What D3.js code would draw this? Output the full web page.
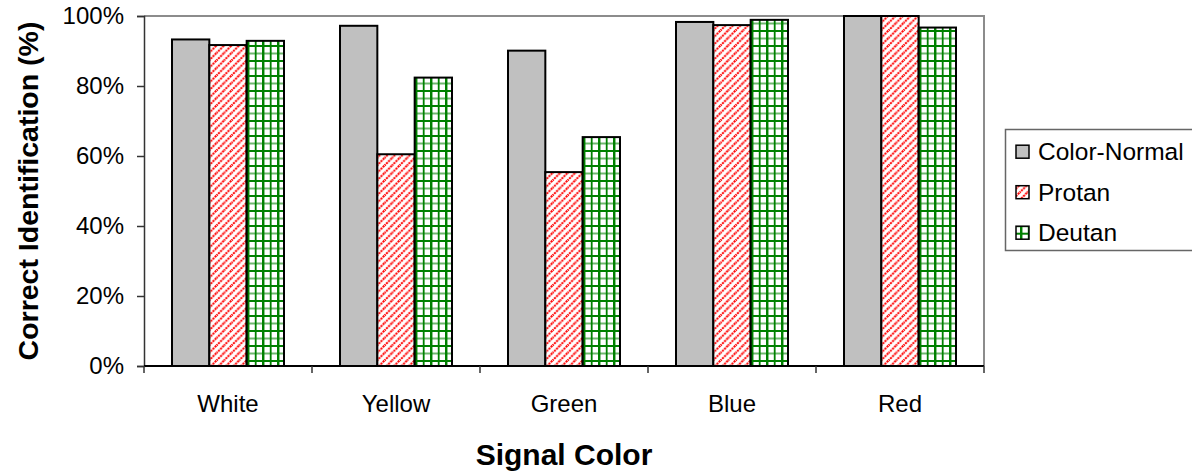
<!DOCTYPE html>
<html>
<head>
<meta charset="utf-8">
<script src="https://cdn.jsdelivr.net/npm/d3@7"></script>
<style>
  html, body { margin: 0; padding: 0; background: #fff; }
  svg { display: block; font-family: "Liberation Sans", Arial, sans-serif; }
</style>
</head>
<body>
<svg id="chart" width="1192" height="471"></svg>
<script>
// Signal colours shown along the x axis
const categories = ["White", "Yellow", "Green", "Blue", "Red"];
// Observer groups
const seriesNames = ["Color-Normal", "Protan", "Deutan"];
// Percent correct identification per group
const colorNormal = [93.3, 97.2, 90.1, 98.3, 100];
const protan = [91.7, 60.5, 55.4, 97.4, 100];
const deutan = [92.9, 82.4, 65.4, 98.9, 96.7];
// Y axis ticks
const yTicks = [0, 20, 40, 60, 80, 100];

const seriesValues = [colorNormal, protan, deutan];

const svg = d3.select("#chart");
const plot = { left: 144, right: 984, top: 16, bottom: 366 };

// Fill patterns: solid grey, red dotted diagonals, green grid
const defs = svg.append("defs");
const red = defs.append("pattern")
  .attr("id", "pat-protan").attr("patternUnits", "userSpaceOnUse")
  .attr("width", 7.5).attr("height", 7.5);
red.append("rect").attr("width", 7.5).attr("height", 7.5).attr("fill", "#fff");
red.append("path").attr("d", "M-1,8.5 L8.5,-1 M-1,1 L1,-1 M6.5,8.5 L8.5,6.5")
  .attr("stroke", "#ff0000").attr("stroke-width", 2).attr("stroke-dasharray", "2.2,0.8");

const green = defs.append("pattern")
  .attr("id", "pat-deutan").attr("patternUnits", "userSpaceOnUse")
  .attr("width", 15).attr("height", 15);
green.append("rect").attr("width", 15).attr("height", 15).attr("fill", "#fff");
green.append("path").attr("d", "M0,8.5 H15")
  .attr("stroke", "#6fb86f").attr("stroke-width", 2);
green.append("path").attr("d", "M0,1 H15")
  .attr("stroke", "#008000").attr("stroke-width", 2);
green.append("path").attr("d", "M1.2,0 V15")
  .attr("stroke", "#008000").attr("stroke-width", 2.5);
green.append("path").attr("d", "M8.7,0 V15")
  .attr("stroke", "#008000").attr("stroke-width", 1.8);

const fills = ["#c0c0c0", "url(#pat-protan)", "url(#pat-deutan)"];

const x = d3.scaleBand().domain(categories)
  .range([plot.left, plot.right]).paddingInner(1 / 3).paddingOuter(1 / 6);
const xs = d3.scaleBand().domain(seriesNames).range([0, x.bandwidth()]);
const y = d3.scaleLinear().domain([0, 100]).range([plot.bottom, plot.top]);

// Plot area frame (top and right edges)
svg.append("path")
  .attr("d", `M${plot.left},${plot.top} H${plot.right} V${plot.bottom}`)
  .attr("fill", "none").attr("stroke", "#8c8c8c").attr("stroke-width", 2);

// Bars
const groups = svg.append("g").selectAll("g")
  .data(categories).join("g")
  .attr("transform", d => `translate(${x(d)},0)`);
groups.selectAll("rect")
  .data((c, i) => seriesNames.map((s, k) => ({ s, k, v: seriesValues[k][i] })))
  .join("rect")
  .attr("x", d => xs(d.s))
  .attr("width", xs.bandwidth())
  .attr("y", d => y(d.v))
  .attr("height", d => y(0) - y(d.v))
  .attr("fill", d => fills[d.k])
  .attr("stroke", "#000").attr("stroke-width", 2);

// Y axis
const yAxis = svg.append("g").attr("transform", `translate(${plot.left},0)`)
  .call(d3.axisLeft(y).tickValues(yTicks).tickSize(7).tickPadding(13)
    .tickFormat(d => d + "%"));
yAxis.select(".domain").attr("stroke", "#333").attr("stroke-width", 1.5);
yAxis.selectAll(".tick line").attr("stroke", "#333").attr("stroke-width", 1.5);
yAxis.selectAll(".tick text").attr("font-size", 24).attr("fill", "#000")
  .attr("font-family", "Liberation Sans, Arial, sans-serif").attr("dy", "0.3em");

// X axis: baseline with ticks at category boundaries
const boundaries = categories.map(c => x(c) - x.step() * x.paddingOuter()).concat([plot.right]);
svg.append("line")
  .attr("x1", plot.left).attr("x2", plot.right)
  .attr("y1", plot.bottom).attr("y2", plot.bottom)
  .attr("stroke", "#000").attr("stroke-width", 2);
svg.append("g").selectAll("line").data(boundaries).join("line")
  .attr("x1", d => d).attr("x2", d => d)
  .attr("y1", plot.bottom).attr("y2", plot.bottom + 7)
  .attr("stroke", "#333").attr("stroke-width", 1.5);
svg.append("g").selectAll("text").data(categories).join("text")
  .attr("x", d => x(d) + x.bandwidth() / 2)
  .attr("y", 411.5)
  .attr("text-anchor", "middle").attr("font-size", 24).attr("fill", "#000")
  .text(d => d);

// Axis titles
svg.append("text")
  .attr("x", (plot.left + plot.right) / 2).attr("y", 465)
  .attr("text-anchor", "middle").attr("font-size", 30).attr("font-weight", "bold")
  .text("Signal Color");
svg.append("text")
  .attr("transform", `translate(38,${(plot.top + plot.bottom) / 2}) rotate(-90)`)
  .attr("text-anchor", "middle").attr("font-size", 28.5).attr("font-weight", "bold")
  .text("Correct Identification (%)");

// Legend
const legend = svg.append("g");
legend.append("rect")
  .attr("x", 1005.5).attr("y", 129.5).attr("width", 200).attr("height", 121)
  .attr("fill", "#fff").attr("stroke", "#666").attr("stroke-width", 1.5);
const rows = legend.selectAll("g.row").data(seriesNames).join("g")
  .attr("class", "row")
  .attr("transform", (d, i) => `translate(0,${151.7 + i * 40.5})`);
rows.append("rect")
  .attr("x", 1016).attr("y", -6.5).attr("width", 13).attr("height", 13)
  .attr("fill", (d, i) => fills[i]).attr("stroke", "#000").attr("stroke-width", 1.5);
rows.append("text")
  .attr("x", 1038).attr("y", 8.5)
  .attr("font-size", 24.5).attr("fill", "#000")
  .text(d => d);
</script>
</body>
</html>
